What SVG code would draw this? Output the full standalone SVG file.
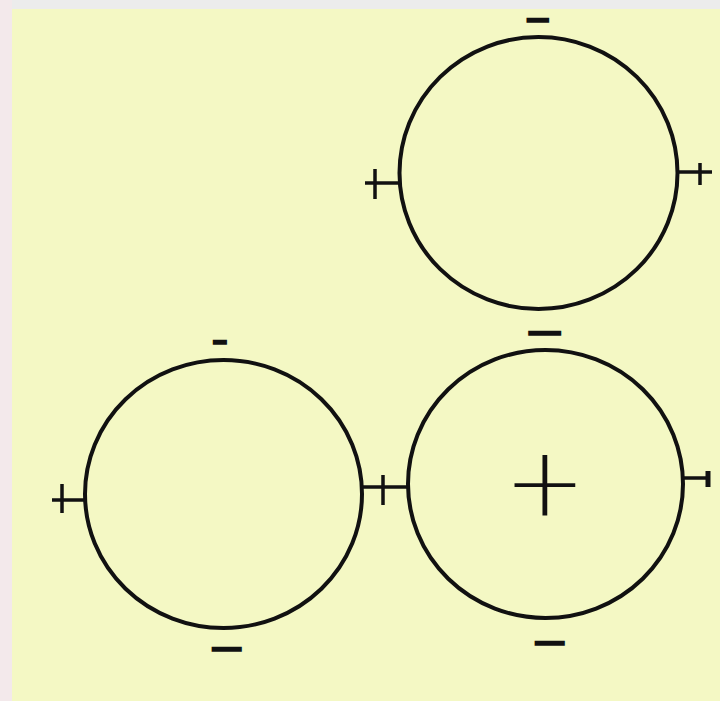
<svg xmlns="http://www.w3.org/2000/svg" width="720" height="701" viewBox="0 0 720 701">
  <style>
    .ring { fill: none; stroke: #111; stroke-width: 4; }
    .tick { stroke: #111; stroke-width: 3.5; stroke-linecap: butt; fill: none; }
    .minus { font-family: "Liberation Sans", Arial, sans-serif; font-weight: bold; font-size: 30px; fill: #111; stroke: #111; stroke-width: 1.5; text-anchor: middle; }
    .bigplus { font-family: "DejaVu Sans", sans-serif; font-weight: 200; font-size: 97px; fill: #111; text-anchor: middle; }
  </style>
  <rect x="0" y="0" width="720" height="701" fill="#f3e9eb"/>
  <rect x="12" y="0" width="708" height="9" fill="#ececec"/>
  <rect x="12" y="9" width="708" height="692" fill="#f4f8c4"/>

  <g id="sphere-top">
    <ellipse class="ring" cx="538.5" cy="173" rx="139" ry="136"/>
    <text class="minus" x="538" y="30" textLength="24" lengthAdjust="spacingAndGlyphs">−</text>
    <line class="tick" x1="365" y1="183" x2="400" y2="183"/>
    <line class="tick" x1="375" y1="169" x2="375" y2="199"/>
    <line class="tick" x1="677" y1="172" x2="712" y2="172"/>
    <line class="tick" x1="700" y1="163" x2="700" y2="185"/>
  </g>

  <g id="sphere-left">
    <ellipse class="ring" cx="223.5" cy="494" rx="138.5" ry="134"/>
    <text class="minus" x="220" y="352" textLength="15" lengthAdjust="spacingAndGlyphs">−</text>
    <text class="minus" x="227" y="659" textLength="32" lengthAdjust="spacingAndGlyphs">−</text>
    <line class="tick" x1="52" y1="500" x2="85" y2="500"/>
    <line class="tick" x1="62" y1="484" x2="62" y2="513"/>
  </g>

  <g id="sphere-right">
    <ellipse class="ring" cx="545.5" cy="484" rx="137.5" ry="134"/>
    <text class="minus" x="545" y="343" textLength="35" lengthAdjust="spacingAndGlyphs">−</text>
    <text class="minus" x="550" y="653" textLength="32" lengthAdjust="spacingAndGlyphs">−</text>
    <text class="bigplus" x="545" y="515">+</text>
    <line class="tick" x1="683" y1="478" x2="710" y2="478"/>
    <line class="tick" x1="708" y1="471" x2="708" y2="487" style="stroke-width:5"/>
  </g>

  <g id="connectors">
    <line class="tick" x1="362" y1="487" x2="408" y2="487"/>
    <line class="tick" x1="383" y1="475" x2="383" y2="505"/>
  </g>
</svg>
